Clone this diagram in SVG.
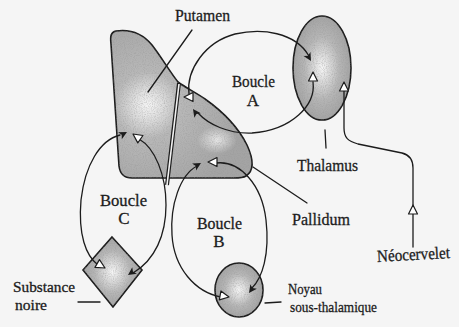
<svg xmlns="http://www.w3.org/2000/svg" xmlns:xlink="http://www.w3.org/1999/xlink" width="459" height="327" viewBox="0 0 459 327">
<defs>
<style>
.ln{fill:none;stroke:#1c1c1c;stroke-width:1.3;stroke-linecap:round}
.sh{stroke:#1c1c1c;stroke-width:1.6}
.t{font-family:"Liberation Serif","Times New Roman",serif;font-size:17px;fill:#1c1c1c;stroke:#1c1c1c;stroke-width:0.3}
.s{font-size:15px}
.ao{fill:#fff;stroke:#1c1c1c;stroke-width:1.2;stroke-linejoin:round}
.af{fill:#1c1c1c}
</style>
<radialGradient id="gp" gradientUnits="userSpaceOnUse" cx="148" cy="105" r="95">
<stop offset="0" stop-color="#f4f4f4"/><stop offset="0.14" stop-color="#e0e0e0"/><stop offset="0.35" stop-color="#b8b8b8"/><stop offset="1" stop-color="#a4a4a4"/>
</radialGradient>
<radialGradient id="gw">
<stop offset="0" stop-color="#fff" stop-opacity="0.7"/><stop offset="1" stop-color="#fff" stop-opacity="0"/>
</radialGradient>
<radialGradient id="gn">
<stop offset="0" stop-color="#f6f6f6"/><stop offset="0.25" stop-color="#dcdcdc"/><stop offset="0.6" stop-color="#b6b6b6"/><stop offset="1" stop-color="#a4a4a4"/>
</radialGradient>
<filter id="st" x="0" y="0" width="100%" height="100%">
<feTurbulence type="fractalNoise" baseFrequency="0.9" numOctaves="1" seed="4" result="n"/>
<feColorMatrix in="n" type="matrix" values="0 0 0 0 0.3  0 0 0 0 0.3  0 0 0 0 0.3  0 0 0 -2.2 1.25" result="d"/>
<feComposite in="d" in2="SourceGraphic" operator="in"/>
</filter>
<path id="to" d="M0 0 L-9 -4.5 L-9 4.5 Z"/>
<path id="tf" d="M0 0 L-8 -4 L-6 0 L-8 4 Z"/>
</defs>
<rect width="459" height="327" fill="#f5f5f5"/>

<g id="putamen-pallidum">
<path class="sh" fill="url(#gp)" d="M116 31 C130 29 142 33 152 45 C162 58 170 72 178 82 C186 88 195 92 205 99 C222 111 238 127 247 145 C253 158 255 170 246 176 C243 178 238 178 234 178 L132 178 C124 178 120 174 119 166 L111 44 C110 36 111 32 116 31 Z"/>
<ellipse cx="217" cy="140" rx="20" ry="14" fill="url(#gw)"/>
<path fill="#000" filter="url(#st)" opacity="0.5" d="M116 31 C130 29 142 33 152 45 C162 58 170 72 178 82 C186 88 195 92 205 99 C222 111 238 127 247 145 C253 158 255 170 246 176 C243 178 238 178 234 178 L132 178 C124 178 120 174 119 166 L111 44 C110 36 111 32 116 31 Z"/>
<line x1="179" y1="83" x2="167" y2="185" stroke="#1c1c1c" stroke-width="4"/>
<line x1="179" y1="84" x2="167" y2="185" stroke="#f2f2f2" stroke-width="1.6"/>
<text class="t" x="175" y="21" textLength="55" lengthAdjust="spacingAndGlyphs">Putamen</text>
<text class="t" x="292" y="225" textLength="58" lengthAdjust="spacingAndGlyphs">Pallidum</text>
</g>

<g id="thalamus">
<ellipse class="sh" cx="322" cy="68" rx="29" ry="52" fill="url(#gn)"/>
<ellipse cx="322" cy="68" rx="29" ry="52" fill="#000" filter="url(#st)" opacity="0.5"/>
<text class="t" x="297" y="171" textLength="61" lengthAdjust="spacingAndGlyphs">Thalamus</text>
</g>

<g id="substance-noire">
<path class="sh" fill="url(#gn)" d="M112 237 L142 270 L113 307 L83 270 Z"/>
<path fill="#000" filter="url(#st)" opacity="0.5" d="M112 237 L142 270 L113 307 L83 270 Z"/>
<text class="t s" x="13" y="292" textLength="62" lengthAdjust="spacingAndGlyphs">Substance</text>
<text class="t s" x="15" y="310" textLength="32" lengthAdjust="spacingAndGlyphs">noire</text>
</g>

<g id="noyau-sous-thalamique">
<ellipse class="sh" cx="239" cy="290" rx="24" ry="27" fill="url(#gn)"/>
<ellipse cx="239" cy="290" rx="24" ry="27" fill="#000" filter="url(#st)" opacity="0.5"/>
<text class="t s" x="288" y="294" textLength="34" lengthAdjust="spacingAndGlyphs">Noyau</text>
<text class="t s" x="290" y="312" textLength="87" lengthAdjust="spacingAndGlyphs">sous-thalamique</text>
</g>

<g id="neocervelet">
<text class="t" x="377" y="260" textLength="73" lengthAdjust="spacingAndGlyphs" transform="rotate(-3 413 255)">Néocervelet</text>
</g>

<g id="loop-labels">
<text class="t" x="232" y="87" textLength="43" lengthAdjust="spacingAndGlyphs">Boucle</text>
<text class="t" x="253" y="106" text-anchor="middle">A</text>
<text class="t" x="197" y="229" textLength="45" lengthAdjust="spacingAndGlyphs">Boucle</text>
<text class="t" x="219" y="247" text-anchor="middle">B</text>
<text class="t" x="100" y="206" textLength="47" lengthAdjust="spacingAndGlyphs">Boucle</text>
<text class="t" x="124" y="224" text-anchor="middle">C</text>
</g>

<g id="connectors">
<path class="ln" d="M192 30 L148 92"/>
<path class="ln" d="M325 130 L326 148"/>
<path class="ln" d="M253 167 L307 203"/>
<path class="ln" d="M78 302 L100 302"/>
<path class="ln" d="M265 303 L281 302"/>
<path class="ln" d="M189 94 C186 70 205 42 235 34 C262 28 295 32 309 56"/>
<path class="ln" d="M313 82 C316 105 292 130 252 133 C228 134 208 124 198 113"/>
<path class="ln" d="M344 91 L344 128 C344 138 348 141 358 144 L402 153 C410 155 413 160 413 168 L413 247"/>
<path class="ln" d="M120 135 C100 140 85 165 81 200 C78 235 86 256 98 265"/>
<path class="ln" d="M139 139 C155 148 166 175 166 205 C166 235 155 260 133 273"/>
<path class="ln" d="M197 166 C180 175 170 205 172 235 C174 268 195 292 221 297"/>
<path class="ln" d="M216 163 C240 160 262 185 266 220 C270 255 262 278 252 288"/>
<use xlink:href="#to" class="ao" transform="translate(184 97) rotate(180)"/>
<use xlink:href="#tf" class="af" transform="translate(193 109) rotate(-125)"/>
<use xlink:href="#tf" class="af" transform="translate(311 61) rotate(60)"/>
<use xlink:href="#to" class="ao" transform="translate(313 72) rotate(-90)"/>
<use xlink:href="#to" class="ao" transform="translate(344 82) rotate(-90)"/>
<use xlink:href="#to" class="ao" transform="translate(413 205) rotate(-90)"/>
<use xlink:href="#tf" class="af" transform="translate(127 132) rotate(-28)"/>
<use xlink:href="#to" class="ao" transform="translate(133 134) rotate(-145)"/>
<use xlink:href="#to" class="ao" transform="translate(105 268) rotate(30)"/>
<use xlink:href="#tf" class="af" transform="translate(128 275) rotate(145)"/>
<use xlink:href="#tf" class="af" transform="translate(201 163) rotate(-30)"/>
<use xlink:href="#to" class="ao" transform="translate(208 162) rotate(180)"/>
<use xlink:href="#to" class="ao" transform="translate(229 297) rotate(10)"/>
<use xlink:href="#tf" class="af" transform="translate(249 293) rotate(125)"/>
</g>
</svg>
